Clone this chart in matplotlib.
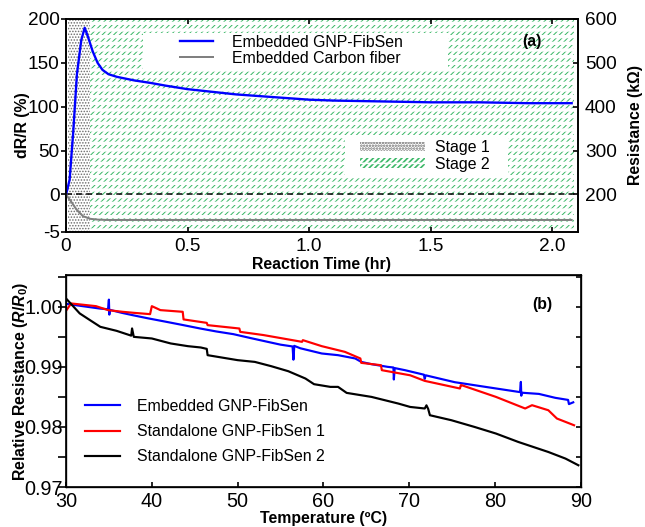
import numpy as np
import matplotlib
matplotlib.use('Agg')
import matplotlib.pyplot as plt
from matplotlib.patches import Rectangle
from matplotlib.legend_handler import HandlerTuple

plt.rcParams['font.family'] = ['Liberation Sans', 'DejaVu Sans']
plt.rcParams['mathtext.fontset'] = 'custom'
plt.rcParams['mathtext.it'] = 'Liberation Sans:italic:bold'
plt.rcParams['mathtext.rm'] = 'Liberation Sans:bold'
plt.rcParams['mathtext.bf'] = 'Liberation Sans:bold'

# ---------------- data: panel (a) ----------------
time_gnp = [0, 0.005, 0.015, 0.03, 0.045, 0.063, 0.077, 0.09, 0.11, 0.13, 0.15, 0.175,
            0.21, 0.28, 0.35, 0.41, 0.5, 0.6, 0.7, 0.8, 0.9, 1.0, 1.1, 1.3, 1.5, 1.7, 1.9, 2.08]
drr_gnp = [0, 5, 17, 72, 137, 176, 190, 180, 163, 150, 142, 137,
           134, 130, 127, 124, 120, 117, 114, 112, 110, 108, 107, 106, 105, 105, 104, 104]
time_cf = [0, 0.02, 0.043, 0.07, 0.1, 0.13, 0.17, 0.25, 0.5, 1.0, 1.5, 2.08]
drr_cf = [0, -0.9, -2.0, -2.9, -3.25, -3.35, -3.4, -3.4, -3.4, -3.4, -3.4, -3.4]
stage1_span = [0.01, 0.10]
stage2_span = [0.10, 2.09]
left_ticks = [-5, 0, 50, 100, 150, 200]
right_ticks = [200, 300, 400, 500, 600]
x_ticks_a = [0, 0.5, 1.0, 1.5, 2.0]
x_ticklabels_a = ['0', '0.5', '1.0', '1.5', '2.0']

# ---------------- data: panel (b) ----------------
temp_emb = [30.0, 31.0, 32.5, 34.0, 34.9, 35.0, 35.05, 35.1, 36.5, 37.8, 39.5, 41.7, 43.5,
            45.6, 47.5, 49.5, 51.5, 53.4, 55.0, 56.4, 56.5, 56.6, 57.3, 59.8, 61.7, 63.7,
            64.4, 65.6, 67.5, 68.15, 68.2, 68.3, 69.5, 71.7, 71.8, 71.9, 75.3, 79.2, 82.9,
            83.0, 83.05, 83.1, 85.1, 87.0, 88.5, 88.6, 89.1]
rr_emb = [1.0005, 1.0003, 1.0000, 0.9997, 0.9996, 1.0012, 0.9987, 0.9995, 0.9990, 0.9986,
          0.9981, 0.9975, 0.9970, 0.9964, 0.9959, 0.99545, 0.9948, 0.9942, 0.9937, 0.9934,
          0.9912, 0.9935, 0.9931, 0.99223, 0.99195, 0.9914, 0.99083, 0.99045, 0.9900,
          0.9899, 0.9879, 0.9898, 0.98945, 0.9887, 0.9880, 0.9886, 0.98745, 0.9866, 0.9858,
          0.9875, 0.9852, 0.9857, 0.9855, 0.98485, 0.9845, 0.9838, 0.9841]
temp_sa1 = [30.0, 30.6, 33.5, 34.9, 36.6, 37.9, 39.8, 40.0, 40.6, 41.0, 43.6, 43.7, 46.4,
            46.5, 50.2, 50.3, 53.0, 57.5, 57.6, 59.8, 62.5, 64.3, 64.4, 66.7, 66.8, 70.1,
            71.8, 75.9, 76.0, 76.1, 80.1, 83.5, 84.3, 86.2, 87.2, 89.2]
rr_sa1 = [0.99933, 1.00056, 1.00011, 0.99945, 0.99917, 0.9990, 0.99878, 1.00011, 0.99972,
          0.99945, 0.99917, 0.9979, 0.99733, 0.99695, 0.99639, 0.99583, 0.9953, 0.99417,
          0.99445, 0.99345, 0.9925, 0.9914, 0.99067, 0.99028, 0.98945, 0.9886, 0.98767,
          0.9864, 0.98695, 0.98695, 0.9850, 0.98307, 0.98362, 0.98278, 0.9814, 0.98028]
temp_sa2 = [30.0, 31.6, 32.8, 34.0, 35.9, 37.6, 37.7, 37.9, 40.0, 42.2, 44.2, 45.7, 46.4,
            46.5, 48.1, 50.0, 52.0, 53.9, 55.9, 57.9, 58.9, 60.8, 61.7, 62.7, 65.6, 68.7,
            70.1, 71.8, 72.0, 72.2, 72.4, 74.9, 77.6, 80.1, 82.7, 86.2, 88.2, 89.7]
rr_sa2 = [1.0014, 0.9989, 0.99778, 0.99667, 0.9960, 0.9952, 0.9964, 0.9950, 0.99473,
          0.9939, 0.99345, 0.99323, 0.9930, 0.99195, 0.99157, 0.99112, 0.99083, 0.99012,
          0.98928, 0.98806, 0.98712, 0.98667, 0.98667, 0.98567, 0.9850, 0.9839, 0.98333,
          0.98307, 0.9836, 0.9830, 0.98195, 0.98112, 0.9800, 0.9789, 0.9775, 0.97583,
          0.97473, 0.97362]
x_ticks_b = [30, 40, 50, 60, 70, 80, 90]
y_ticks_b = [0.97, 0.98, 0.99, 1.00]
y_ticklabels_b = ['0.97', '0.98', '0.99', '1.00']

DPI = 120
fig = plt.figure(figsize=(645 / DPI, 527 / DPI), dpi=DPI)

GREEN = '#3cb868'
DOTC = '#6a6a6a'


def hatch_patch(maker, hatch, color, hlw, z, **kw):
    with plt.rc_context({'hatch.linewidth': hlw}):
        p = maker(hatch=hatch, facecolor='none', edgecolor=color, linewidth=0, zorder=z, **kw)
    if hasattr(p, 'set_hatch_linewidth'):
        p.set_hatch_linewidth(hlw)
    return p


# ================= panel (a) =================
ax1 = fig.add_axes([0.1023, 0.5598, 0.7938, 0.4042])
K = 8.56


def fwd(y):
    y = np.asarray(y, float)
    return np.where(y >= 0, y, y * K)


def inv(u):
    u = np.asarray(u, float)
    return np.where(u >= 0, u, u / K)


ax1.set_yscale('function', functions=(fwd, inv))
ax1.set_xlim(0, 2.106)
ax1.set_ylim(-5, 200)

# stage regions
hatch_patch(lambda **k: ax1.axvspan(stage1_span[0], stage1_span[1], **k), '.' * 7, DOTC, 0.6, 0.3)
hatch_patch(lambda **k: ax1.axvspan(stage2_span[0], stage2_span[1], **k), '/' * 7, GREEN, 0.6, 0.3)
hatch_patch(lambda **k: ax1.axvspan(stage2_span[0], stage2_span[1], **k), '-' * 3, 'white', 2.0, 0.35)

# white legend backgrounds
ax1.add_patch(Rectangle((0.150, 0.756), 0.596, 0.178, transform=ax1.transAxes,
                        facecolor='white', edgecolor='none', zorder=1.5))
ax1.add_patch(Rectangle((0.545, 0.258), 0.318, 0.183, transform=ax1.transAxes,
                        facecolor='white', edgecolor='none', zorder=1.5))

ax1.axhline(0, color='black', lw=0.9, ls=(0, (4, 2.7)), zorder=2)
l1, = ax1.plot(time_gnp, drr_gnp, color='#0000ff', lw=1.4, zorder=3)
l2, = ax1.plot(time_cf, drr_cf, color='#808080', lw=1.2, zorder=3)

ax1.set_yticks(left_ticks)
ax1.set_yticklabels([str(v) for v in left_ticks])
ax1.yaxis.set_minor_locator(matplotlib.ticker.NullLocator())
ax1.set_xticks(x_ticks_a)
ax1.set_xticklabels(x_ticklabels_a)
ax1.tick_params(axis='y', which='major', direction='out', length=3, width=1, pad=0.8, labelsize=11.4)
ax1.tick_params(axis='x', which='major', direction='in', length=3, width=1, pad=3.4,
                labelsize=11.4, top=True)
for s in ax1.spines.values():
    s.set_linewidth(1.0)

ax1.set_xlabel('Reaction Time (hr)', fontsize=9.5, fontweight='bold', labelpad=1.5)
ax1.set_ylabel('dR/R (%)', fontsize=9.5, fontweight='bold')
ax1.yaxis.set_label_coords(-0.07, 0.5)

leg1 = ax1.legend([l1, l2], ['Embedded GNP-FibSen', 'Embedded Carbon fiber'], loc='upper left',
                  bbox_to_anchor=(0.223, 0.925), frameon=False, borderpad=0, borderaxespad=0,
                  handlelength=2.1, handletextpad=1.2, labelspacing=0.05, fontsize=9.5)
leg1.set_zorder(5)

ax1.text(0.91, 0.895, '(a)', transform=ax1.transAxes, fontsize=9.5, fontweight='bold',
         ha='center', va='center', zorder=5)

ax1r = ax1.twinx()
ax1r.set_ylim(200 + 2 * float(fwd(-5)), 600)
ax1r.set_yticks(right_ticks)
ax1r.set_yticklabels([str(v) for v in right_ticks])
ax1r.tick_params(axis='y', direction='in', length=3, width=1, pad=4.2, labelsize=11.4)
ax1r.set_ylabel('Resistance (k\u03a9)', fontsize=9.5, fontweight='bold')
ax1r.yaxis.set_label_coords(1.097, 0.5)
for s in ax1r.spines.values():
    s.set_linewidth(1.0)

# stage legend handles
s1 = hatch_patch(lambda **k: Rectangle((0, 0), 1, 1, **k), '.' * 7, DOTC, 0.6, 1)
s2a = hatch_patch(lambda **k: Rectangle((0, 0), 1, 1, **k), '/' * 7, GREEN, 0.6, 1)
s2b = hatch_patch(lambda **k: Rectangle((0, 0), 1, 1, **k), '-' * 3, 'white', 2.0, 1)
leg2 = ax1r.legend([s1, (s2a, s2b)], ['Stage 1', 'Stage 2'], loc='upper left',
                   bbox_to_anchor=(0.574, 0.432), frameon=False, borderpad=0, borderaxespad=0,
                   handlelength=4.1, handleheight=0.55, handletextpad=0.65, labelspacing=0.1,
                   fontsize=9.5, handler_map={tuple: HandlerTuple(ndivide=1)})

# ================= panel (b) =================
ax2 = fig.add_axes([0.1023, 0.0759, 0.7984, 0.4023])
ax2.set_xlim(30, 90)
ax2.set_ylim(0.97, 1.0053)
b1, = ax2.plot(temp_emb, rr_emb, color='#0000ff', lw=1.3)
b2, = ax2.plot(temp_sa1, rr_sa1, color='#ff0000', lw=1.3)
b3, = ax2.plot(temp_sa2, rr_sa2, color='black', lw=1.3)

ax2.set_xticks(x_ticks_b)
ax2.set_xticklabels([str(v) for v in x_ticks_b])
ax2.set_yticks(y_ticks_b)
ax2.set_yticklabels(y_ticklabels_b)
ax2.yaxis.set_minor_locator(matplotlib.ticker.MultipleLocator(0.005))
ax2.tick_params(axis='y', which='both', direction='out', length=4.8, width=1, pad=-3,
                labelsize=11.9, right=False)
ax2.tick_params(axis='x', which='major', direction='in', length=3, width=1, pad=3.0, labelsize=11.9)
for s in ax2.spines.values():
    s.set_linewidth(1.0)
ax2r = ax2.twinx()
ax2r.set_ylim(ax2.get_ylim())
ax2r.yaxis.set_major_locator(matplotlib.ticker.MultipleLocator(0.005))
ax2r.tick_params(axis='y', direction='in', length=3, width=1, labelright=False)

ax2.set_xlabel('Temperature (\u00baC)', fontsize=9.5, fontweight='bold', labelpad=0.2)
ax2.set_ylabel('Relative Resistance ($R/R_0$)', fontsize=9.5, fontweight='bold')
ax2.yaxis.set_label_coords(-0.07, 0.5)

ax2.legend([b1, b2, b3], ['Embedded GNP-FibSen', 'Standalone GNP-FibSen 1',
                          'Standalone GNP-FibSen 2'], loc='upper left',
           bbox_to_anchor=(0.037, 0.416), frameon=False, borderpad=0, borderaxespad=0,
           handlelength=2.2, handletextpad=1.1, labelspacing=0.65, fontsize=9.5)
ax2.text(0.925, 0.86, '(b)', transform=ax2.transAxes, fontsize=9.5, fontweight='bold',
         ha='center', va='center')

fig.savefig('out.png', dpi=DPI)
